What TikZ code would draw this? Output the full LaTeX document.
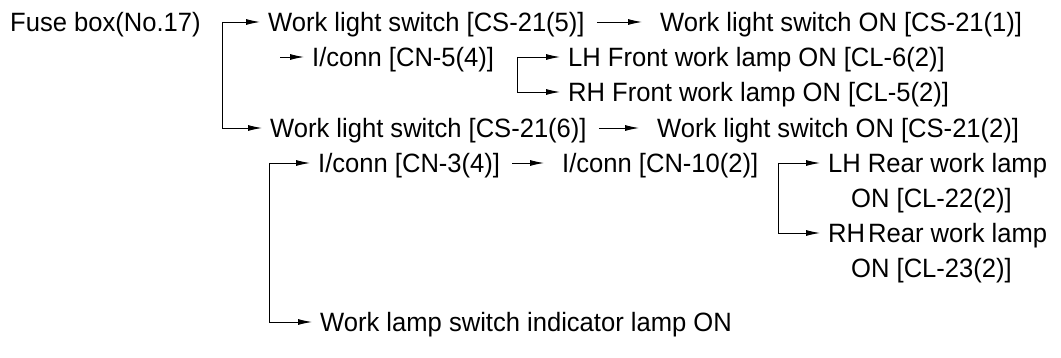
\documentclass[tikz,border=0pt]{standalone}
\usepackage{fontspec}
\setmainfont[FakeStretch=0.965]{Liberation Sans}
\usetikzlibrary{arrows.meta}
\begin{document}
\begin{tikzpicture}[x=1pt,y=-1pt,
 lbl/.style={anchor=west,inner sep=0pt,font=\fontsize{26.5}{31}\selectfont,text height=24pt,text depth=5pt},
 arr/.style={line width=0.9pt,-{Latex[length=14pt,width=6pt]},shorten >=8pt},
 inl/.style={arr,shorten >=18pt,shorten <=12pt}]
\useasboundingbox (0,0) rectangle (1061,358);
\node[lbl] (fuse) at (10,22) {Fuse box(No.17)};
\node[lbl] (ws5) at (268,22) {Work light switch [CS-21(5)]};
\node[lbl] (on1) at (660,22) {Work light switch ON [CS-21(1)]};
\node[lbl] (cn5) at (312,57) {I/conn [CN-5(4)]};
\node[lbl] (lhf) at (568,57) {LH Front work lamp ON [CL-6(2)]};
\node[lbl] (rhf) at (568,92) {RH Front work lamp ON [CL-5(2)]};
\node[lbl] (ws6) at (270,128) {Work light switch [CS-21(6)]};
\node[lbl] (on2) at (657,128) {Work light switch ON [CS-21(2)]};
\node[lbl] (cn3) at (318,163) {I/conn [CN-3(4)]};
\node[lbl] (cn10) at (562,163) {I/conn [CN-10(2)]};
\node[lbl] (lhr) at (828,163) {LH Rear work lamp};
\node[lbl] (lhr2) at (851,198) {ON [CL-22(2)]};
\node[lbl] (rhr) at (828,233) {RH\hspace{3pt}Rear work lamp};
\node[lbl] (rhr2) at (851,268) {ON [CL-23(2)]};
\node[lbl] (ind) at (320,322) {Work lamp switch indicator lamp ON};
\coordinate (b1) at (222,22);
\coordinate (s2) at (280,57);
\coordinate (b2) at (517,57);
\coordinate (b3) at (269,163);
\coordinate (b4) at (778,163);
\draw[arr] (b1) -- (ws5.west);
\draw[arr] (b1) |- (ws6.west);
\draw[inl] (ws5.east) -- (on1.west);
\draw[arr] (s2) -- (cn5.west);
\draw[arr] (b2) -- (lhf.west);
\draw[arr] (b2) |- (rhf.west);
\draw[inl] (ws6.east) -- (on2.west);
\draw[arr] (b3) -- (cn3.west);
\draw[arr] (b3) |- (ind.west);
\draw[inl] (cn3.east) -- (cn10.west);
\draw[arr] (b4) -- (lhr.west);
\draw[arr] (b4) |- (rhr.west);
\end{tikzpicture}
\end{document}
